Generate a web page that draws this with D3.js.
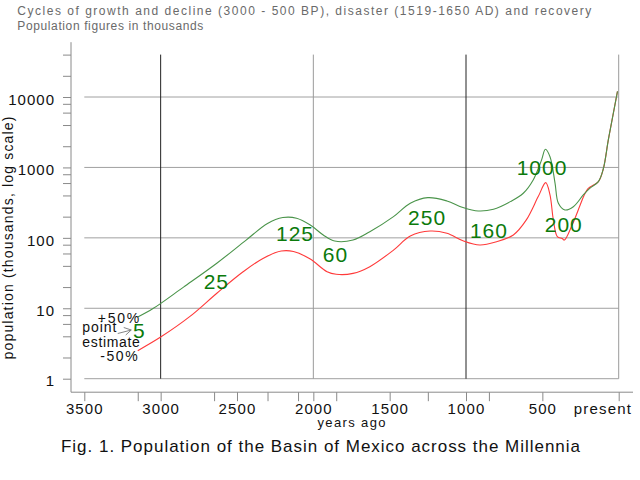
<!DOCTYPE html>
<html>
<head>
<meta charset="utf-8">
<script src="https://cdn.jsdelivr.net/npm/d3@7"></script>
<style>
  html, body { margin: 0; padding: 0; background: #fff; }
  svg { display: block; font-family: "Liberation Sans", Arial, sans-serif; }
</style>
</head>
<body>
<svg id="chart" width="640" height="480"></svg>
<script>
// ---------- data ----------
const titleLines = [
  "Cycles of growth and decline (3000 - 500 BP), disaster (1519-1650 AD) and recovery",
  "Population figures in thousands"
];
const caption = "Fig. 1. Population of the Basin of Mexico across the Millennia";
const xLabel = "years ago";
const yLabel = "population (thousands, log scale)";

// years before present, +50% (upper) curve
const upperYears  = [3150, 3050, 2850, 2630, 2440, 2300, 2200, 2110, 2020, 1935, 1860, 1740, 1630, 1475, 1365, 1250, 1125, 1020, 920, 820, 710, 625, 560, 505, 480, 450, 417, 395, 352, 297, 232, 188, 133, 101, 68, 35, 8];
const upperValues = [7.5, 9.9, 20, 44, 93, 160, 194, 190, 152, 110, 90, 93, 122, 200, 310, 372, 334, 270, 241, 255, 327, 430, 664, 1280, 1810, 1420, 600, 310, 249, 277, 406, 507, 629, 950, 2460, 5900, 12000];

// -50% (lower) curve
const lowerYears  = [3150, 3000, 2810, 2630, 2460, 2330, 2210, 2130, 2020, 1910, 1850, 1740, 1630, 1475, 1365, 1235, 1125, 1020, 910, 800, 690, 605, 527, 478, 450, 428, 402, 370, 356, 305, 253, 227, 201, 133, 101, 68, 35, 8];
const lowerValues = [2.5, 3.9, 7.6, 16.5, 33, 51, 65, 64, 50, 33, 30.4, 31.3, 39, 67, 106, 125, 116, 91, 79, 88, 110, 180, 385, 608, 407, 180, 104, 98, 93, 152, 290, 400, 500, 629, 950, 2460, 5900, 12000];

// point-estimate labels: text, year, value used as anchor
const estLabels = ["5", "25", "125", "60", "250", "160", "1000", "200"];
const estYears  = [3140, 2635, 2120, 1855, 1255, 850, 502, 360];
const estAnchor = [4.9, 24, 115, 59, 197, 126, 1000, 156];

const yMajor = [1, 10, 100, 1000, 10000];
const yMinor = [2, 4, 6, 8, 20, 40, 60, 80, 200, 400, 600, 800, 2000, 4000, 6000, 8000, 20000, 40000];
const xMajor = [3500, 3000, 2500, 2000, 1500, 1000, 500, 0];
const xMinor = [3150, 2650, 2300, 2100, 1850, 1250, 850];
const xGrid  = [3000, 2000, 1000, 0];
const xGridDark = [3000, 1000];

// ---------- scales ----------
const svg = d3.select("#chart");
const x = d3.scaleLinear().domain([3500, 0]).range([84.3, 618.7]);
const y = d3.scaleLog().domain([1, 10000]).range([378.7, 97]);
const axisX0 = 71;                 // y-axis line position
const axisY0 = y(1) + 13.5;        // x-axis line position

// ---------- title ----------
svg.selectAll("text.title").data(titleLines).join("text")
  .attr("class", "title")
  .attr("x", 17.3).attr("y", (d, i) => 15 + i * 15)
  .attr("font-size", 12).attr("fill", "#6a6a6a")
  .attr("textLength", (d, i) => i === 0 ? 574 : 186)
  .attr("lengthAdjust", "spacing")
  .text(d => d);

// ---------- grid ----------
svg.append("g").selectAll("line").data(yMajor).join("line")
  .attr("x1", x(3500)).attr("x2", x(0))
  .attr("y1", d => y(d)).attr("y2", d => y(d))
  .attr("stroke", "#a0a0a0").attr("stroke-width", 1);

svg.append("g").selectAll("line").data(xGrid).join("line")
  .attr("x1", d => x(d)).attr("x2", d => x(d))
  .attr("y1", y(40000)).attr("y2", y(1))
  .attr("stroke", d => xGridDark.includes(d) ? "#222" : "#9a9a9a")
  .attr("stroke-width", 1);

// ---------- axes ----------
const yAxis = d3.axisLeft(y)
  .tickValues(yMajor.concat(yMinor))
  .tickSize(8).tickPadding(8)
  .tickFormat(d => yMajor.includes(d) ? String(d) : "");
const gy = svg.append("g").attr("transform", `translate(${axisX0},0)`).call(yAxis);
gy.select(".domain").remove();
gy.selectAll(".tick line").attr("stroke", "#8a8a8a");
gy.selectAll(".tick text")
  .attr("font-size", 15).attr("font-family", "Liberation Sans, Arial, sans-serif")
  .attr("fill", "#111").attr("dy", "0.48em")
  .style("letter-spacing", "1px");
svg.append("line")
  .attr("x1", axisX0).attr("x2", axisX0)
  .attr("y1", y(60000)).attr("y2", axisY0)
  .attr("stroke", "#8a8a8a");

const xAxis = d3.axisBottom(x)
  .tickValues(xMajor.concat(xMinor))
  .tickSize(9).tickPadding(2)
  .tickFormat(d => xMajor.includes(d) ? (d === 0 ? "present" : String(d)) : "");
const gx = svg.append("g").attr("transform", `translate(0,${axisY0})`).call(xAxis);
gx.select(".domain").remove();
gx.selectAll(".tick line").attr("stroke", "#8a8a8a");
gx.selectAll(".tick text")
  .attr("font-size", 15).attr("font-family", "Liberation Sans, Arial, sans-serif")
  .attr("fill", "#111")
  .style("letter-spacing", "1.1px");
gx.selectAll(".tick").filter(d => d === 0).select("text")
  .attr("text-anchor", "end").attr("x", 13).style("letter-spacing", "1.2px");
svg.append("line")
  .attr("x1", axisX0).attr("x2", 633)
  .attr("y1", axisY0).attr("y2", axisY0)
  .attr("stroke", "#8a8a8a");

// ---------- axis labels ----------
svg.append("text")
  .attr("x", (x(3500) + x(0)) / 2).attr("y", 427)
  .attr("text-anchor", "middle").attr("font-size", 13).attr("fill", "#111")
  .attr("textLength", 68).attr("lengthAdjust", "spacing")
  .text(xLabel);

svg.append("text")
  .attr("transform", "translate(13,238) rotate(-90)")
  .attr("text-anchor", "middle").attr("font-size", 14).attr("fill", "#111")
  .attr("textLength", 243).attr("lengthAdjust", "spacing")
  .text(yLabel);

svg.append("text")
  .attr("x", 61).attr("y", 451.7)
  .attr("font-size", 17).attr("fill", "#111")
  .attr("textLength", 519).attr("lengthAdjust", "spacing")
  .text(caption);

// ---------- curves ----------
const line = d3.line()
  .x(d => x(d[0])).y(d => y(d[1]))
  .curve(d3.curveCatmullRom.alpha(0.5));

svg.append("path")
  .datum(d3.zip(lowerYears, lowerValues))
  .attr("d", line).attr("fill", "none")
  .attr("stroke", "#ff3a3a").attr("stroke-width", 1.1);

svg.append("path")
  .datum(d3.zip(upperYears, upperValues))
  .attr("d", line).attr("fill", "none")
  .attr("stroke", "#4a944a").attr("stroke-width", 1.1);

// ---------- point-estimate labels ----------
svg.append("g").selectAll("text").data(d3.range(estLabels.length)).join("text")
  .attr("x", i => x(estYears[i])).attr("y", i => y(estAnchor[i]))
  .attr("dy", "0.36em")
  .attr("text-anchor", "middle")
  .attr("font-size", 21).attr("fill", "#0b7a0b")
  .style("letter-spacing", "1px")
  .text(i => estLabels[i]);

// ---------- legend-like annotations at the start ----------
const sx = x(upperYears[0]);
const ann = svg.append("g").attr("font-size", 14).attr("fill", "#111");
ann.append("text").attr("x", sx + 3.4).attr("y", y(upperValues[0]) + 6)
  .attr("text-anchor", "end").style("letter-spacing", "1.8px").text("+50%");
ann.append("text").attr("x", x(3500) - 2).attr("y", 332)
  .attr("textLength", 34).attr("lengthAdjust", "spacing").text("point");
ann.append("text").attr("x", x(3500) - 2).attr("y", 346.7)
  .attr("textLength", 57.5).attr("lengthAdjust", "spacing").text("estimate");
ann.append("text").attr("x", sx + 1.5).attr("y", y(lowerValues[0]) + 10.7)
  .attr("text-anchor", "end").style("letter-spacing", "1.6px").text("-50%");

svg.append("path")
  .attr("d", `M${sx - 20},333.5 L${sx - 6.5},330 M${sx - 14},327.5 L${sx - 6.5},330 L${sx - 12},335`)
  .attr("fill", "none").attr("stroke", "#777").attr("stroke-width", 0.9);
</script>
</body>
</html>
